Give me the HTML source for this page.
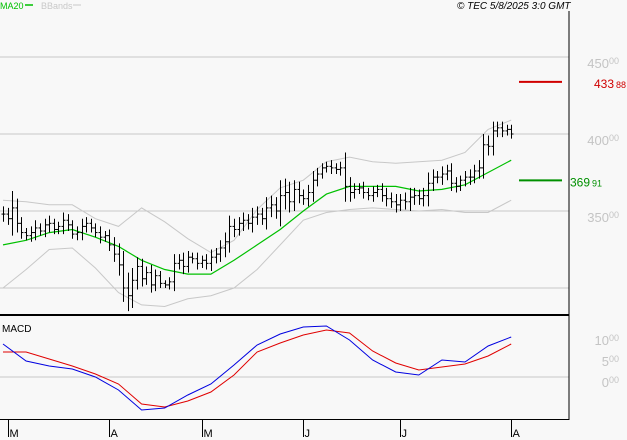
<!DOCTYPE html>
<html><head><meta charset="utf-8">
<style>
body{margin:0;background:#f8f8f8;width:627px;height:440px;overflow:hidden;font-family:"Liberation Sans",sans-serif;}
svg{display:block}
</style></head>
<body>
<svg id="c" width="627" height="440" xmlns="http://www.w3.org/2000/svg">
<rect x="0" y="0" width="627" height="440" fill="#f8f8f8"/>
<g>
<text x="0" y="9" font-size="9" fill="#00c000">MA20</text>
<line x1="25" y1="5" x2="33" y2="5" stroke="#00c000" stroke-width="1.5"/>
<text x="41" y="9" font-size="9" fill="#c8c8c8">BBands</text>
<line x1="73" y1="5" x2="81" y2="5" stroke="#c8c8c8" stroke-width="1"/>
</g>
<text x="457" y="9" font-size="10" font-style="italic" fill="#000">© TEC 5/8/2025 3:0 GMT</text>
<g id="grid"></g>
<g id="bands"></g>
<g id="bars"></g>
<g id="macd"></g>
<g id="axes"></g>
</svg>
<script>
const closes=[348,345,352,342,336,334,336,339,337,341,342,338,340,344,341,335,336,340,342,339,336,333,334,328,322,315,300,295,305,314,306,310,302,308,303,302,304,316,318,314,320,319,316,318,316,320,322,326,330,340,338,342,344,342,346,348,345,352,354,350,360,362,356,364,360,358,362,370,374,378,379,378,377,378,366,362,364,365,362,360,362,364,360,358,356,354,357,356,359,360,358,360,368,372,372,374,376,368,366,370,372,372,376,378,393,392,402,404,402,403,400];
const ranges=[10,8,22,12,8,6,8,10,6,8,10,6,6,10,8,6,8,10,8,6,6,8,6,8,10,14,18,20,16,12,10,8,10,8,6,4,6,12,8,10,8,6,8,6,8,10,8,10,12,14,10,8,10,8,12,10,8,14,12,10,20,18,14,12,10,8,10,12,8,6,6,8,6,8,20,12,8,6,8,6,8,6,8,10,8,10,8,10,12,10,8,10,14,10,8,10,8,10,8,6,8,10,8,10,14,12,12,8,8,6,6];
const maVals=[328,331,336,338,333,327,318,312,309,309,318,328,338,350,361,366,366,366,363,364,367,375,383];
const upperVals=[357,356,354,354,345,340,352,343,332,323,331,351,365,370,382,385,382,381,382,383,388,403,409];
const lowerVals=[300,312,325,326,313,297,289,288,293,295,300,312,328,344,349,351,352,351,350,351,349,349,357];
const macdVals=[786,381,262,190,0,-310,-786,-738,-429,-167,286,762,1024,1190,1214,881,405,119,48,405,357,738,952];
const signalVals=[595,595,429,262,71,-167,-643,-714,-571,-357,48,595,810,1000,1119,1048,619,333,167,238,310,500,786];
const priceTicks=[300,350,400,450];
const priceLabels=["","350","400","450"];
const macdTicks=[0,500,1000];
const macdLabels=["0","5","10"];
const monthLabels=["M","A","M","J","J","A"];
const monthBars=[1,23,43,65,86,110];
const lastPrice=[433.88,369.91];
const lastPriceLabels=["433","369"];
const lastPriceDec=["88","91"];

const NS="http://www.w3.org/2000/svg";
const bx=i=>3+i*4.62;
const py=p=>134-(p-400)*1.54;
const my=v=>377-v*0.042;
function mk(tag,parent,attrs){const e=document.createElementNS(NS,tag);for(const k in attrs)e.setAttribute(k,attrs[k]);document.getElementById(parent).appendChild(e);return e;}

priceTicks.forEach((t,i)=>{
 const l=mk('line','grid',{x1:0,x2:569,y1:py(t),y2:py(t),stroke:'#c8c8c8','stroke-width':1});
 
 
 if(priceLabels[i]){
 const tx=mk('text','grid',{x:619,y:py(t)+11,'font-size':13,fill:'#c4c4c4','text-anchor':'end'});
 tx.innerHTML=priceLabels[i]+'<tspan font-size="9" dy="-4">00</tspan>';
 
 }
});
{const l=mk('line','grid',{x1:0,x2:569,y1:my(0),y2:my(0),stroke:'#c8c8c8','stroke-width':1});
 
 }
macdTicks.forEach((t,i)=>{
 const tx=mk('text','grid',{x:619,y:my(t)+10,'font-size':13,fill:'#c4c4c4','text-anchor':'end'});
 tx.innerHTML=macdLabels[i]+'<tspan font-size="9" dy="-4">00</tspan>';
 
 
});
function line(vals,fy,color,name,g,w){
 const pts=vals.map((v,k)=>bx(k*5).toFixed(1)+','+fy(v).toFixed(1)).join(' ');
 const p=mk('polyline',g,{points:pts,fill:'none',stroke:color,'stroke-width':w});
 
 
}
line(upperVals,py,'#c8c8c8','bband-upper','bands',1);
line(lowerVals,py,'#c8c8c8','bband-lower','bands',1);
line(maVals,py,'#00c000','ma20-line','bands',1.2);
closes.forEach((c,i)=>{
 const o=i?closes[i-1]:c;const r=ranges[i];
 const hi=Math.max(o,c)+r/2, lo=Math.min(o,c)-r/2;
 const x=Math.round(bx(i))+0.5;
 const g=mk('g','bars',{stroke:'#000','stroke-width':1});
 
 
 const a=document.createElementNS(NS,'line');a.setAttribute('x1',x);a.setAttribute('x2',x);a.setAttribute('y1',py(hi));a.setAttribute('y2',py(lo));g.appendChild(a);
 const b=document.createElementNS(NS,'line');b.setAttribute('x1',x-2);b.setAttribute('x2',x);b.setAttribute('y1',py(o));b.setAttribute('y2',py(o));g.appendChild(b);
 const d=document.createElementNS(NS,'line');d.setAttribute('x1',x);d.setAttribute('x2',x+2);d.setAttribute('y1',py(c));d.setAttribute('y2',py(c));g.appendChild(d);
});
const lpColors=['#d00000','#009000'];
lastPrice.forEach((v,i)=>{
 const l=mk('line','axes',{x1:519,x2:562,y1:py(v),y2:py(v),stroke:lpColors[i],'stroke-width':2});
 
 
 const tx=mk('text','axes',{x:i?570:594,y:py(v)+6,'font-size':12,fill:lpColors[i]});
 tx.innerHTML=lastPriceLabels[i]+'<tspan font-size="9" dx="2">'+lastPriceDec[i]+'</tspan>';
 
 
});
line(signalVals,my,'#e00000','macd-signal-line','macd',1);
line(macdVals,my,'#0000e0','macd-line','macd',1);
{const t=mk('text','macd',{x:2,y:332,'font-size':10,fill:'#000'});t.textContent='MACD';
 
 }
[[569,11,569,420,1],[0,315,569,315,2],[0,419.5,569,419.5,1]].forEach(a=>{
 const l=mk('line','axes',{x1:a[0],y1:a[1],x2:a[2],y2:a[3],stroke:'#000','stroke-width':a[4]});
 
 
});
monthBars.forEach((b,i)=>{
 const x=Math.round(bx(b))+0.5;
 const l=mk('line','axes',{x1:x,x2:x,y1:420,y2:437,stroke:'#000','stroke-width':1});
 
 
 const t=mk('text','axes',{x:x+1,y:437,'font-size':11,fill:'#000'});t.textContent=monthLabels[i];
 
 
});
</script>
</body></html>
